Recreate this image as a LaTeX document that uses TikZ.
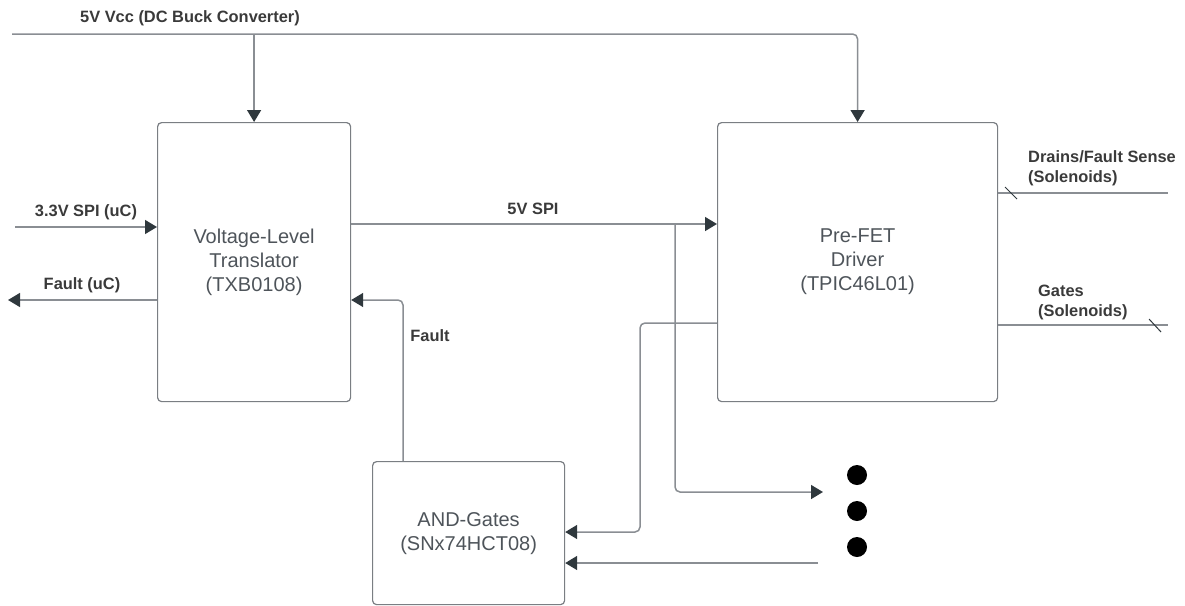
\documentclass[tikz,border=0pt]{standalone}
\usepackage{fontspec}
\setmainfont{Liberation Sans}
\usetikzlibrary{arrows.meta}
\definecolor{linec}{HTML}{8A8E93}
\definecolor{tipc}{HTML}{2F383D}
\definecolor{boxc}{HTML}{7A7E83}
\definecolor{txtc}{HTML}{4E545A}
\definecolor{lblc}{HTML}{3A3A3A}
\begin{document}
\begin{tikzpicture}[x=1pt,y=-1pt,
 box/.style={draw=boxc, line width=1.2pt, rounded corners=4pt, inner sep=0pt, anchor=north west,
   font=\fontsize{20}{24}\selectfont, text=txtc, align=center},
 wire/.style={draw=linec, line width=1.5pt, rounded corners=5pt},
 arr/.style={wire, -{Triangle[length=12pt,width=14pt,color=tipc]}},
 lbl/.style={font=\bfseries\fontsize{16.4}{20}\selectfont, text=lblc, inner sep=0pt},
 dot/.style={circle, fill=black, minimum size=20pt, inner sep=0pt},
 slash/.style={draw=tipc, line width=1pt}]
\useasboundingbox (0,0) rectangle (1185,605);
% boxes
\node[box, minimum width=193pt, minimum height=279pt] (txb) at (157,122) {Voltage-Level\\Translator\\(TXB0108)};
\node[box, minimum width=280pt, minimum height=279pt] (pre) at (717,122) {Pre-FET\\Driver\\(TPIC46L01)};
\node[box, minimum width=192pt, minimum height=143pt] (and) at (372,461) {AND-Gates\\(SNx74HCT08)};
% dots
\node[dot] (d1) at (857,475) {};
\node[dot] (d2) at (857,511) {};
\node[dot] (d3) at (857,547) {};
% helper coordinates
\coordinate (vccL) at (12,34);
\coordinate (spiIn) at (15,227);
\coordinate (fOut) at (8,300);
\coordinate (ySpi) at (0,224);
\coordinate (br) at (675,224);
\coordinate (brEnd) at (823,492);
\coordinate (fx) at (403,0);
\coordinate (yF) at (0,300);
\coordinate (yPre) at (0,323);
\coordinate (xBend) at (640,0);
\coordinate (yAnd) at (0,532);
\coordinate (in2) at (818,563);
\coordinate (drainEnd) at (1168,193);
\coordinate (gateEnd) at (1168,325);
% connectors
\draw[arr] (vccL) -| (pre.north);
\draw[arr] (txb.north |- vccL) -- (txb.north);
\draw[arr] (spiIn) -- (spiIn -| txb.west);
\draw[arr] (txb.west |- fOut) -- (fOut);
\draw[arr] (txb.east |- ySpi) -- (pre.west |- ySpi);
\draw[arr] (br) |- (brEnd);
\draw[arr] (fx |- and.north) |- (txb.east |- yF);
\draw[arr] (pre.west |- yPre) -- (xBend |- yPre) -- (xBend |- yAnd) -- (and.east |- yAnd);
\draw[arr] (in2) -- (and.east |- in2);
\draw[wire] (pre.east |- drainEnd) -- (drainEnd);
\draw[wire] (pre.east |- gateEnd) -- (gateEnd);
\draw[slash] (1005,187) -- (1017,199);
\draw[slash] (1149,319) -- (1161,332);
% labels
\node[lbl] (lvcc) at (190,18) {5V Vcc (DC Buck Converter)};
\node[lbl] (lspi) at (86,212) {3.3V SPI (uC)};
\node[lbl] (lfu) at (82,285) {Fault (uC)};
\node[lbl] (l5) at (533,209) {5V SPI};
\node[lbl] (lf) at (430,336) {Fault};
\node[lbl, anchor=west, align=left] (ldr) at (1028,168) {Drains/Fault Sense\\(Solenoids)};
\node[lbl, anchor=west, align=left] (lg) at (1038,302) {Gates\\(Solenoids)};
\end{tikzpicture}
\end{document}
